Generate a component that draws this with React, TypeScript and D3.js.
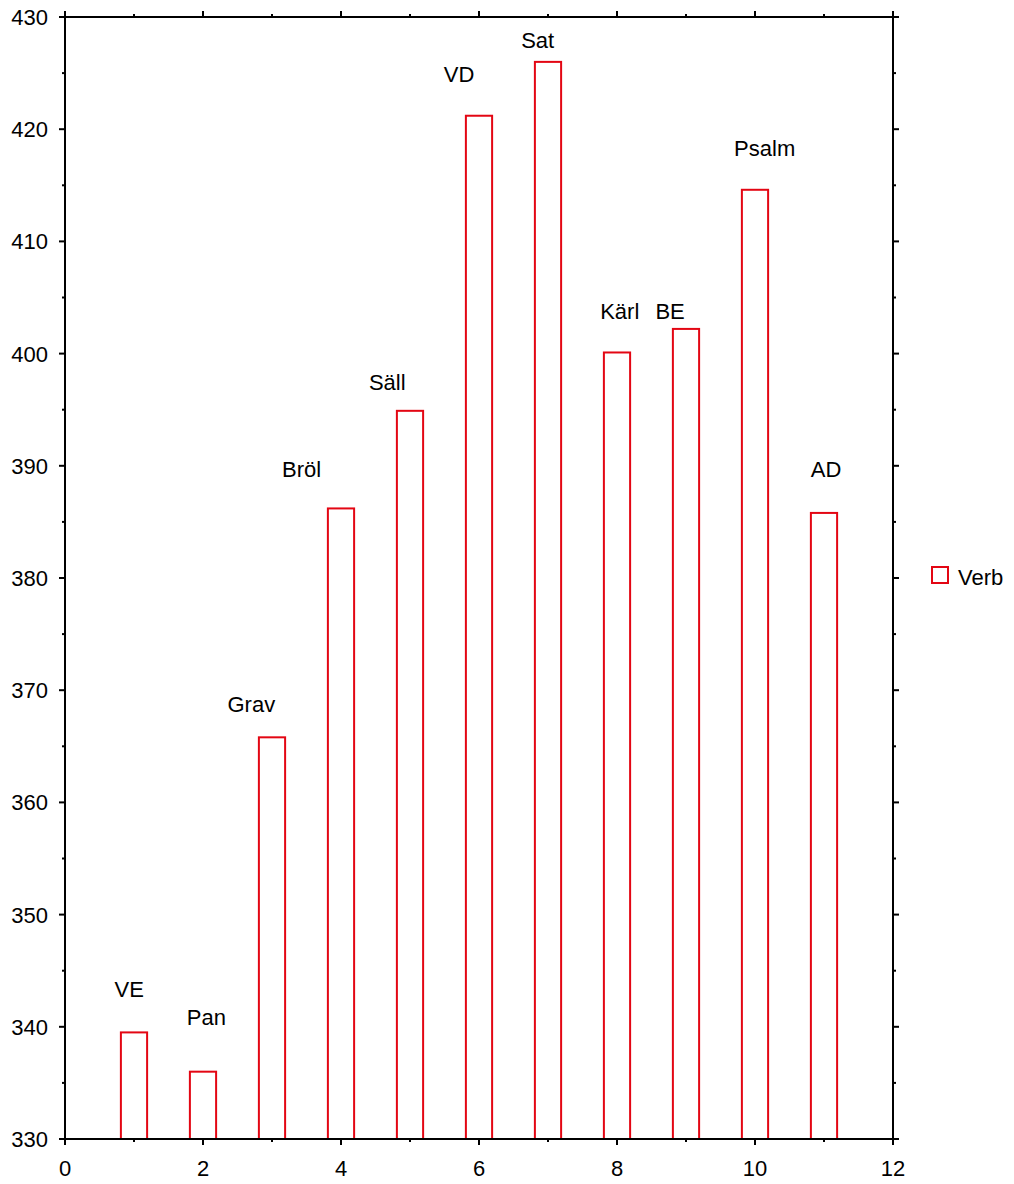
import React from "react";
import * as d3 from "d3";

const categories = ["VE", "Pan", "Grav", "Bröl", "Säll", "VD", "Sat", "Kärl", "BE", "Psalm", "AD"];
const positions = [1, 2, 3, 4, 5, 6, 7, 8, 9, 10, 11];
const values = [339.5, 336.0, 365.8, 386.2, 394.9, 421.2, 426.0, 400.1, 402.2, 414.6, 385.8];
const labelX = [0.93, 2.05, 2.7, 3.43, 4.67, 5.71, 6.85, 8.04, 8.77, 10.14, 11.03];
const labelY = [342.7, 340.2, 368.1, 389.0, 396.8, 424.2, 427.2, 403.1, 403.1, 417.6, 389.0];
const xTicks = [0, 2, 4, 6, 8, 10, 12];
const xMinor = [1, 3, 5, 7, 9, 11];
const yTicks = [330, 340, 350, 360, 370, 380, 390, 400, 410, 420, 430];
const yMinor = [335, 345, 355, 365, 375, 385, 395, 405, 415, 425];
const seriesName = "Verb";

const W = 1014;
const H = 1184;
const left = 65;
const right = 893;
const top = 17;
const bottom = 1139;
const RED = "#e30613";
const FONT = "Arial, 'Liberation Sans', sans-serif";

export default function App() {
  const x = d3.scaleLinear().domain([0, 12]).range([left, right]);
  const y = d3.scaleLinear().domain([330, 430]).range([bottom, top]);
  const barW = x(0.38) - x(0);

  return (
    <svg width={W} height={H} style={{ position: "absolute", left: 0, top: 0, background: "#fff" }}>
      <rect x={0} y={0} width={W} height={H} fill="#fff" />
      {/* bars */}
      {values.map((v, i) => (
        <rect
          key={categories[i]}
          x={x(positions[i]) - barW / 2}
          y={y(v)}
          width={barW}
          height={y(330) - y(v)}
          fill="#fff"
          stroke={RED}
          strokeWidth={2}
        />
      ))}
      {/* frame */}
      <rect x={left} y={top} width={right - left} height={bottom - top} fill="none" stroke="#000" strokeWidth={2} />
      {/* x ticks */}
      {xTicks.map((t) => (
        <g key={"xt" + t}>
          <line x1={x(t)} x2={x(t)} y1={bottom} y2={bottom + 6} stroke="#000" strokeWidth={2} />
          <line x1={x(t)} x2={x(t)} y1={top} y2={top - 6} stroke="#000" strokeWidth={2} />
          <text x={x(t)} y={1176} textAnchor="middle" fontFamily={FONT} fontSize={22} fill="#000">
            {t}
          </text>
        </g>
      ))}
      {xMinor.map((t) => (
        <g key={"xm" + t}>
          <line x1={x(t)} x2={x(t)} y1={bottom} y2={bottom + 3} stroke="#000" strokeWidth={2} />
          <line x1={x(t)} x2={x(t)} y1={top} y2={top - 3} stroke="#000" strokeWidth={2} />
        </g>
      ))}
      {/* y ticks */}
      {yTicks.map((t) => (
        <g key={"yt" + t}>
          <line x1={left} x2={left - 6} y1={y(t)} y2={y(t)} stroke="#000" strokeWidth={2} />
          <line x1={right} x2={right + 6} y1={y(t)} y2={y(t)} stroke="#000" strokeWidth={2} />
          <text x={48} y={y(t)} dy="0.36em" textAnchor="end" fontFamily={FONT} fontSize={22} fill="#000">
            {t}
          </text>
        </g>
      ))}
      {yMinor.map((t) => (
        <g key={"ym" + t}>
          <line x1={left} x2={left - 3} y1={y(t)} y2={y(t)} stroke="#000" strokeWidth={2} />
          <line x1={right} x2={right + 3} y1={y(t)} y2={y(t)} stroke="#000" strokeWidth={2} />
        </g>
      ))}
      {/* labels */}
      {categories.map((c, i) => (
        <text
          key={"l" + c}
          x={x(labelX[i])}
          y={y(labelY[i])}
          textAnchor="middle"
          fontFamily={FONT}
          fontSize={22}
          fill="#000"
        >
          {c}
        </text>
      ))}
      {/* legend */}
      <rect x={932} y={567} width={16} height={16} fill="#fff" stroke={RED} strokeWidth={2} />
      <text x={958} y={585} fontFamily={FONT} fontSize={22} fill="#000">
        {seriesName}
      </text>
    </svg>
  );
}
